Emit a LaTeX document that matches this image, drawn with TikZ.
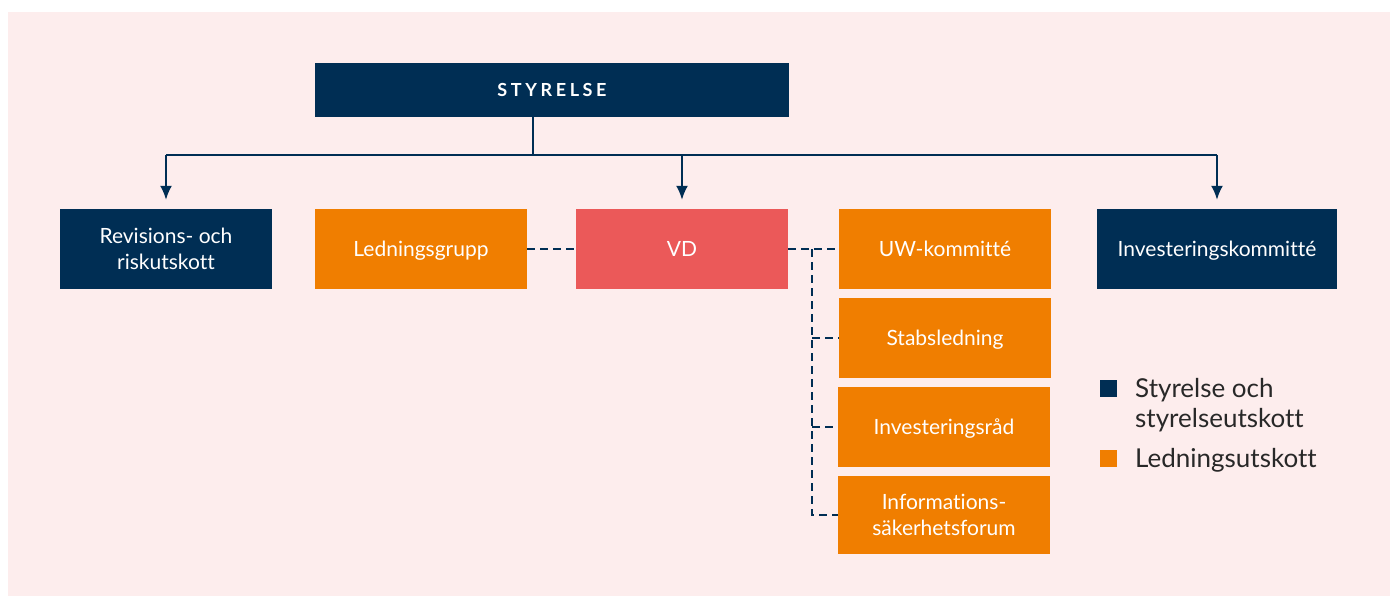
\documentclass[tikz,border=0pt]{standalone}
\usepackage{fontspec}
\setmainfont{Lato}[Ligatures=NoCommon]
\newfontfamily\spacedlato[LetterSpace=20]{Lato}
\usetikzlibrary{arrows.meta}

\definecolor{navy}{RGB}{0,46,84}
\definecolor{orangefill}{RGB}{240,126,0}
\definecolor{vdred}{RGB}{235,89,89}
\definecolor{pinkbg}{RGB}{253,237,237}
\definecolor{legendgray}{RGB}{40,40,40}

\tikzset{
  box/.style={minimum width=212pt, minimum height=80pt, inner sep=0pt,
    text=white, align=center, text depth=0pt, font=\fontsize{21}{26}\selectfont},
  navybox/.style={box, fill=navy},
  orangebox/.style={box, fill=orangefill},
  solidline/.style={navy, line width=2pt},
  arrowline/.style={solidline, -{Latex[length=14pt,width=12pt]}, shorten >=9pt},
  dashline/.style={navy, line width=2pt, dash pattern=on 8pt off 5pt},
  legbox/.style={minimum size=17pt, inner sep=0pt},
  legtext/.style={anchor=base west, inner sep=0pt, align=left,
    text=legendgray, font=\fontsize{26}{30}\selectfont},
}

\begin{document}
\begin{tikzpicture}[x=1pt,y=-1pt]
  \useasboundingbox (0,0) rectangle (1394,596);
  \fill[pinkbg] (8,12) rectangle (1390,596);

  % top
  \node[navybox, minimum width=474pt, minimum height=54pt,
    font=\spacedlato\fontsize{18}{20}\selectfont\bfseries] (styrelse) at (552,90) {STYRELSE};

  % second row
  \node[navybox] (revision) at (166,249) {Revisions- och\\riskutskott};
  \node[orangebox] (ledning) at (421,249) {Ledningsgrupp};
  \node[box, fill=vdred] (vd) at (682,249) {VD};
  \node[orangebox] (uw) at (945,249) {UW-kommitté};
  \node[navybox, minimum width=240pt] (invkom) at (1217,249) {Investeringskommitté};

  % column under VD
  \node[orangebox] (stab) at (945,338) {Stabsledning};
  \node[orangebox] (invrad) at (944,427) {Investeringsråd};
  \node[orangebox, minimum height=78pt] (infosak) at (944,515) {Informations-\\säkerhetsforum};

  % solid connectors
  \coordinate (bus) at (533,155);
  \draw[solidline] (bus |- styrelse.south) -- (bus);
  \draw[solidline] (revision.north |- bus) -- (invkom.north |- bus);
  \draw[arrowline] (revision.north |- bus) -- (revision.north);
  \draw[arrowline] (vd.north |- bus) -- (vd.north);
  \draw[arrowline] (invkom.north |- bus) -- (invkom.north);

  % dashed connectors
  \coordinate (rail) at (812,249);
  \draw[dashline] (ledning.east) -- (vd.west);
  \draw[dashline] (vd.east) -- (uw.west);
  \draw[dashline] (rail) -- (rail |- infosak.west) -- (infosak.west);
  \draw[dashline] (rail |- stab.west) -- (stab.west);
  \draw[dashline] (rail |- invrad.west) -- (invrad.west);

  % legend
  \node[legbox, fill=navy] (legstyr) at (1108.5,388.5) {};
  \node[legbox, fill=orangefill] (legledn) at (1108.5,458.5) {};
  \node[legtext] (legstyrtext) at (1135,427) {Styrelse och\\styrelseutskott};
  \node[legtext] (legledntext) at (1135,467) {Ledningsutskott};
\end{tikzpicture}
\end{document}
